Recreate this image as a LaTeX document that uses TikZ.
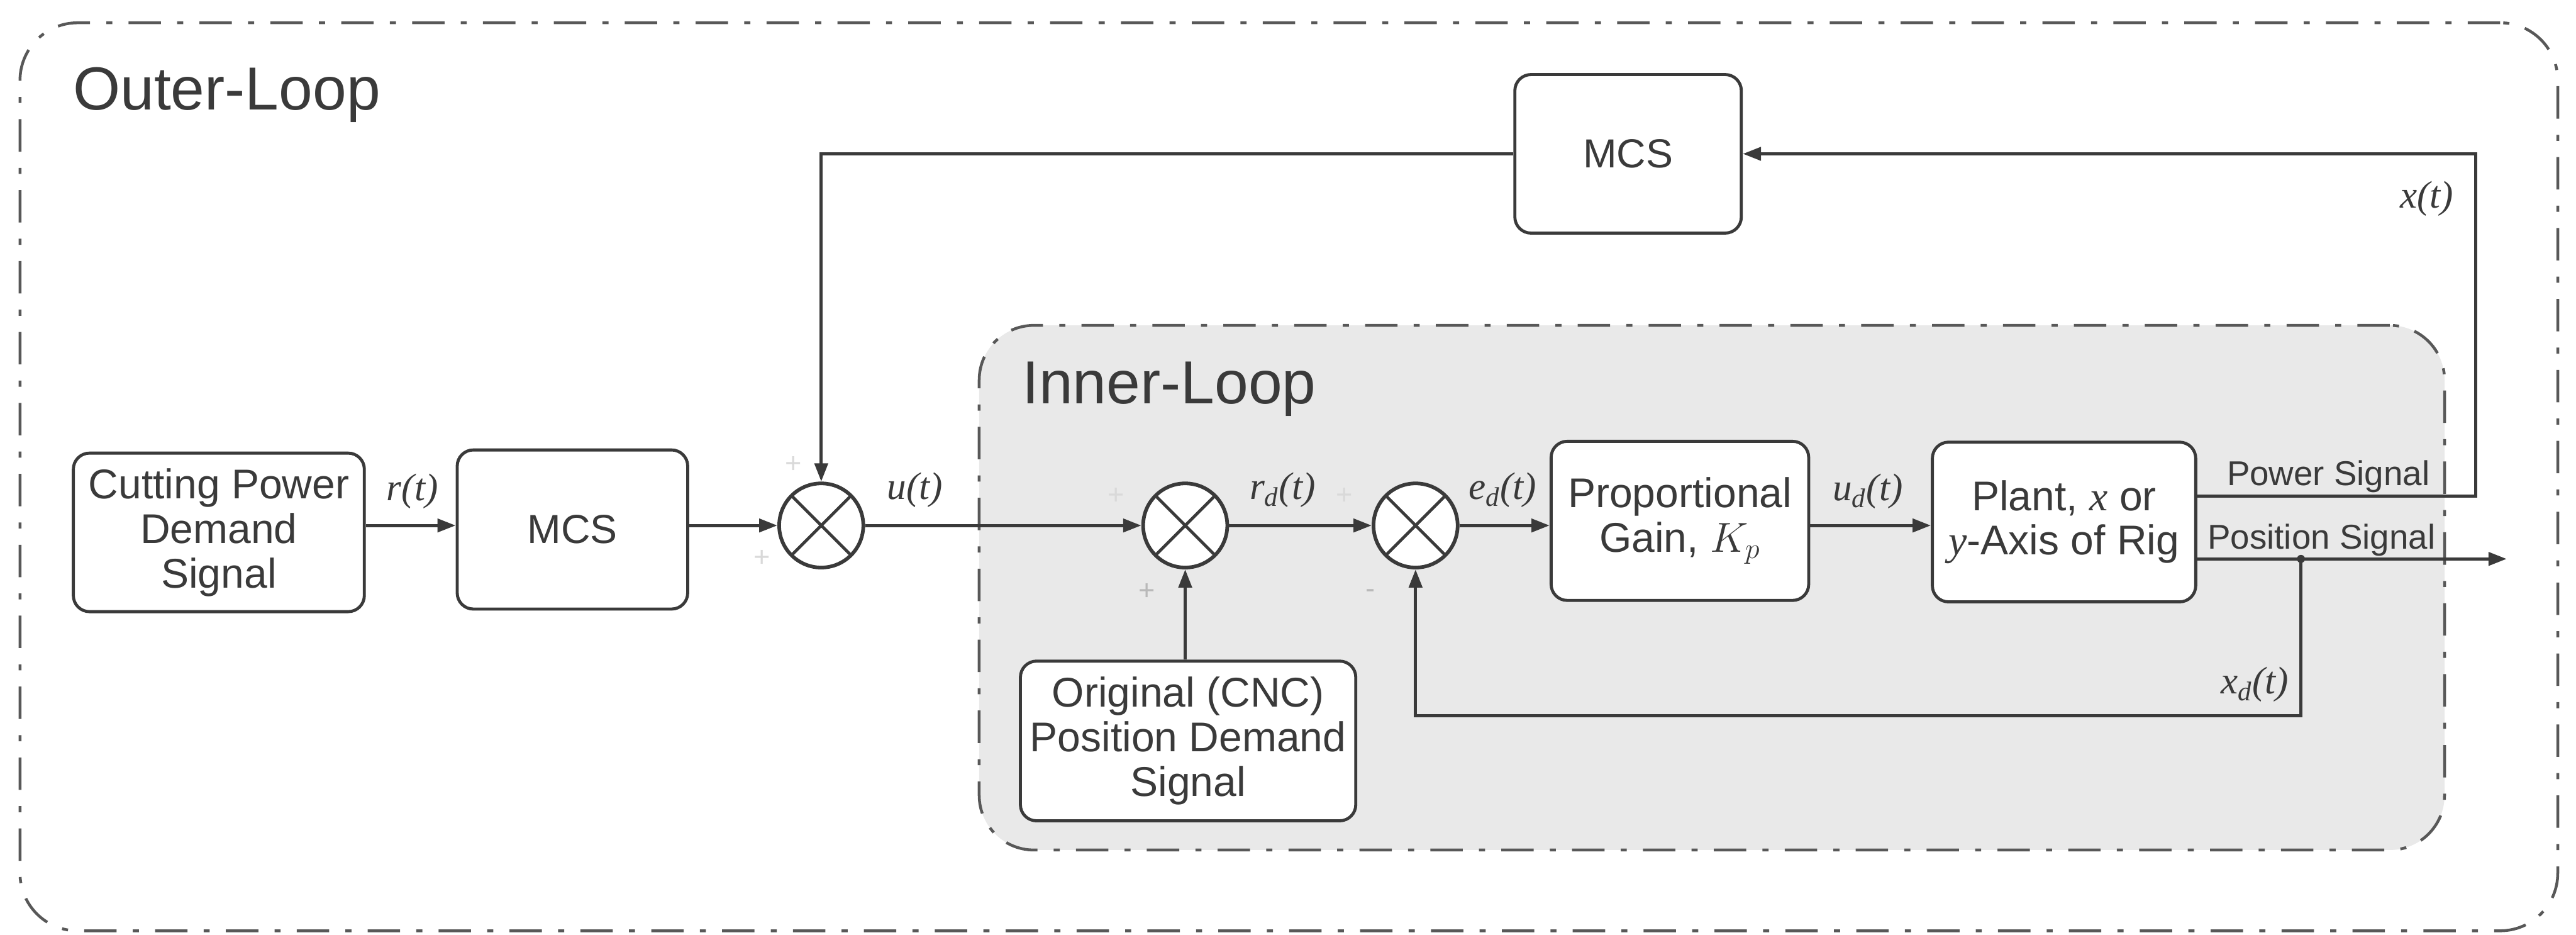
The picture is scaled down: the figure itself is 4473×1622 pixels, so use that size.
\documentclass[tikz,border=0pt]{standalone}
\usepackage{fontspec}
\setmainfont{Liberation Sans}
\newfontfamily\tms{Liberation Serif}
\usetikzlibrary{arrows.meta,calc}
\definecolor{ink}{HTML}{3A3A3A}
\definecolor{innerfill}{HTML}{E9E9E9}
\begin{document}
\begin{tikzpicture}[x=0.01cm,y=-0.01cm, color=ink, line width=1.6pt,
  >={Triangle[length=9pt,width=6.5pt]},
  blk/.style={draw=ink, fill=white, rounded corners=0.28cm, line width=1.5pt, align=center,
    inner sep=0pt, font=\fontsize{20.5}{22}\selectfont, text=ink},
  sumj/.style={circle, draw=ink, fill=white, line width=1.8pt, minimum size=1.46cm, inner sep=0pt,
    path picture={\draw[ink,line width=1.5pt]
      (path picture bounding box.north west)--(path picture bounding box.south east)
      (path picture bounding box.north east)--(path picture bounding box.south west);}},
  sig/.style={font=\fontsize{19}{20}\selectfont\tms\itshape, text=ink, inner sep=0pt},
  loopbox/.style={draw=ink!85, line width=1.4pt, dash pattern=on 16pt off 8pt on 3pt off 8pt},
  pm/.style={text=gray!55, font=\fontsize{14}{14}\selectfont, inner sep=0pt},
  pmf/.style={text=gray!30, font=\fontsize{14}{14}\selectfont, inner sep=0pt},
  ttl/.style={anchor=base west, font=\fontsize{30}{30}\selectfont, inner sep=0pt, text=ink},
  sgt/.style={anchor=base, font=\fontsize{17}{17}\selectfont, inner sep=0pt, text=ink}]
\useasboundingbox (0,0) rectangle (4473,1622);
\fill[white] (0,0) rectangle (4473,1622);

% loops
\node[loopbox, rounded corners=1cm, minimum width=44.04cm, minimum height=15.75cm, inner sep=0pt] (outer) at (2238,827.5) {};
\node[loopbox, fill=innerfill, rounded corners=0.95cm, minimum width=25.43cm, minimum height=9.10cm, inner sep=0pt] (inner) at (2972.5,1020) {};
\node[ttl] (olbl) at (124,191) {Outer-Loop};
\node[ttl] (ilbl) at (1772,701) {Inner-Loop};

% blocks
\node[blk, minimum width=5.05cm, minimum height=2.75cm] (cpd) at (380,924) {Cutting Power\\Demand\\Signal};
\node[blk, minimum width=4.0cm, minimum height=2.76cm, font=\fontsize{20}{22}\selectfont] (mcs1) at (994,919) {MCS};
\node[sumj] (j1) at (1426,912) {};
\node[sumj] (j2) at (2058,912) {};
\node[sumj] (j3) at (2458,912) {};
\node[blk, minimum width=4.47cm, minimum height=2.76cm] (kp) at (2917,904) {Proportional\\Gain, $K_p$};
\node[blk, minimum width=4.57cm, minimum height=2.77cm] (plant) at (3584,906) {Plant, {\tms\itshape x} or\\{\tms\itshape y}-Axis of Rig};
\node[blk, minimum width=3.93cm, minimum height=2.75cm, font=\fontsize{20}{22}\selectfont] (mcs2) at (2827,267) {MCS};
\node[blk, minimum width=5.82cm, minimum height=2.77cm] (cnc) at (2063,1286) {Original (CNC)\\Position Demand\\Signal};

% helper coordinates
\coordinate (pwr) at ([yshift=0.45cm]plant.east);
\coordinate (posL) at ([yshift=-0.64cm]plant.east);
\coordinate (tap) at ([xshift=1.80cm]posL);
\coordinate (posout) at ([xshift=5.37cm]posL);
\coordinate (fbR) at (4299,0);
\coordinate (fbB) at (0,1242);

% connectors
\draw[->] (cpd.east |- j1) -- (mcs1.west |- j1);
\draw[->] (mcs1.east |- j1) -- (j1.west);
\draw[->] (j1.east) -- (j2.west);
\draw[->] (j2.east) -- (j3.west);
\draw[->] (j3.east) -- (kp.west |- j3);
\draw[->] (kp.east |- j3) -- (plant.west |- j3);
\draw[->] (pwr) -| (fbR |- mcs2.east) -- (mcs2.east);
\draw[->] (mcs2.west) -| (j1.north);
\draw[->] (posL) -- (posout);
\fill (tap) circle (0.07cm);
\draw[->] (tap) -- (tap |- fbB) -| (j3.south);
\draw[->] (cnc.north -| j2) -- (j2.south);

% signal labels
\node[sig] (lr) at (716,853) {r(t)};
\node[sig] (lu) at (1589,851) {u(t)};
\node[sig] (lrd) at (2227,851) {r\textsubscript{d}(t)};
\node[sig] (led) at (2609,851) {e\textsubscript{d}(t)};
\node[sig] (lud) at (3243,853) {u\textsubscript{d}(t)};
\node[sig] (lx) at (4214,345) {x(t)};
\node[sig] (lxd) at (3915,1188) {x\textsubscript{d}(t)};
\node[sgt] (lpw) at (4043,843) {Power Signal};
\node[sgt] (lps) at (4031,953) {Position Signal};

% signs
\node[pmf] (s1) at (1378,806) {+};
\node[pmf] (s2) at (1323,969) {+};
\node[pmf] (s3) at (1938,861) {+};
\node[pm] (s4) at (1992,1027) {+};
\node[pmf] (s5) at (2334,861) {+};
\node[pm] (s6) at (2380,1030) {-};
\end{tikzpicture}
\end{document}
